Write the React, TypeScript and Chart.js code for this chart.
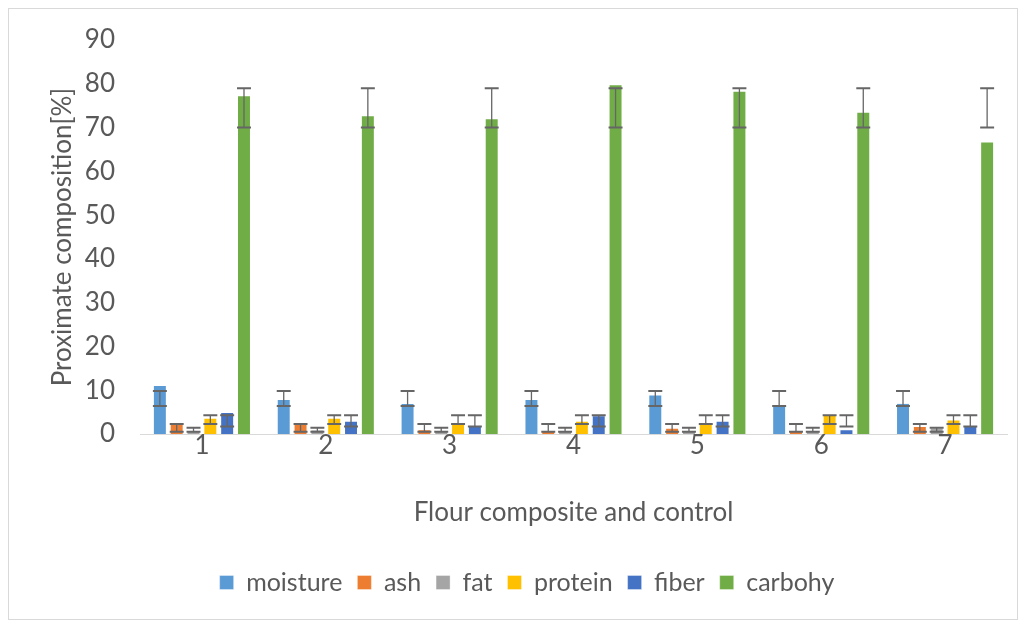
import React, { useEffect, useRef } from "react";
import { Chart, registerables } from "chart.js";

Chart.register(...registerables);

const categories = ["1", "2", "3", "4", "5", "6", "7"];
const seriesNames = ["moisture", "ash", "fat", "protein", "fiber", "carbohy"];
const seriesColors = ["#5B9BD5", "#ED7D31", "#A5A5A5", "#FFC000", "#4472C4", "#70AD47"];

const moisture = [11.2, 8.0, 7.1, 8.0, 9.0, 6.4, 7.1];
const ash = [2.3, 2.3, 1.1, 0.7, 1.4, 0.7, 1.8];
const fat = [0.8, 1.0, 0.8, 0.8, 0.8, 0.8, 1.5];
const protein = [3.7, 3.7, 2.3, 3.0, 2.3, 4.5, 3.3];
const fiber = [5.0, 3.0, 2.0, 4.3, 3.0, 1.1, 2.0];
const carbohy = [77.4, 72.8, 72.1, 79.9, 78.4, 73.6, 66.8];

// error bar ranges (low, high) per series, per category
const moistureErrLow = [6.4, 6.4, 6.4, 6.4, 6.4, 6.4, 6.4];
const moistureErrHigh = [9.8, 9.8, 9.8, 9.8, 9.8, 9.8, 9.8];
const ashErrLow = [0.5, 0.5, 0.5, 0.5, 0.5, 0.5, 0.5];
const ashErrHigh = [2.3, 2.3, 2.3, 2.3, 2.3, 2.3, 2.3];
const fatErrLow = [0.5, 0.5, 0.5, 0.5, 0.5, 0.5, 0.5];
const fatErrHigh = [1.4, 1.4, 1.4, 1.4, 1.4, 1.4, 1.4];
const proteinErrLow = [2.3, 2.3, 2.3, 2.3, 2.3, 2.3, 2.3];
const proteinErrHigh = [4.3, 4.3, 4.3, 4.3, 4.3, 4.3, 4.3];
const fiberErrLow = [1.7, 1.7, 1.7, 1.7, 1.7, 1.7, 1.7];
const fiberErrHigh = [4.3, 4.3, 4.3, 4.3, 4.3, 4.3, 4.3];
const carbohyErrLow = [70, 70, 70, 70, 70, 70, 70];
const carbohyErrHigh = [79, 79, 79, 79, 79, 79, 79];

const seriesValues = [moisture, ash, fat, protein, fiber, carbohy];
const errLows = [moistureErrLow, ashErrLow, fatErrLow, proteinErrLow, fiberErrLow, carbohyErrLow];
const errHighs = [moistureErrHigh, ashErrHigh, fatErrHigh, proteinErrHigh, fiberErrHigh, carbohyErrHigh];

const yMin = 0;
const yMax = 90;
const yStep = 10;

const FONT = "Lato, 'Noto Sans', sans-serif";
const TEXT = "#595959";

const errorBarPlugin = {
  id: "errorBars",
  afterDatasetsDraw(chart: any) {
    const ctx = chart.ctx;
    const yScale = chart.scales.y;
    ctx.save();
    chart.data.datasets.forEach((ds: any, di: number) => {
      const meta = chart.getDatasetMeta(di);
      if (meta.hidden) return;
      meta.data.forEach((bar: any, i: number) => {
        const lo = errLows[di][i];
        const hi = errHighs[di][i];
        const x = bar.x;
        const yl = yScale.getPixelForValue(lo);
        const yh = yScale.getPixelForValue(hi);
        const half = bar.width / 2;
        ctx.strokeStyle = "#666666";
        ctx.lineWidth = 1.3;
        ctx.beginPath();
        ctx.moveTo(x, yl);
        ctx.lineTo(x, yh);
        ctx.stroke();
        ctx.lineWidth = 2;
        ctx.beginPath();
        ctx.moveTo(x - half, yl);
        ctx.lineTo(x + half, yl);
        ctx.moveTo(x - half, yh);
        ctx.lineTo(x + half, yh);
        ctx.stroke();
      });
    });
    ctx.restore();
  },
};

export default function App() {
  const ref = useRef<HTMLCanvasElement | null>(null);

  useEffect(() => {
    if (!ref.current) return;
    const chart = new Chart(ref.current, {
      type: "bar",
      data: {
        labels: categories,
        datasets: seriesNames.map((name, i) => ({
          label: name,
          data: seriesValues[i],
          backgroundColor: seriesColors[i],
          borderColor: "rgba(255,255,255,0.35)",
          borderWidth: 1,
          categoryPercentage: 0.815,
          barPercentage: 0.83,
        })),
      },
      options: {
        responsive: false,
        animation: false,
        maintainAspectRatio: false,
        layout: { padding: { top: 31, right: 10, bottom: 14, left: 38 } },
        plugins: {
          tooltip: { enabled: false },
          title: { display: false },
          legend: {
            display: true,
            position: "bottom",
            labels: {
              color: TEXT,
              font: { family: FONT, size: 25 },
              boxWidth: 14,
              boxHeight: 14,
              padding: 15,
            },
          },
        },
        scales: {
          x: {
            grid: { display: false, drawTicks: false },
            border: { display: true, color: "#d9d9d9", width: 1 },
            ticks: { color: TEXT, font: { family: FONT, size: 26 }, padding: -4 },
            title: {
              display: true,
              text: "Flour composite and control",
              color: TEXT,
              font: { family: FONT, size: 26 },
              padding: { top: 0, bottom: 27 },
            },
            afterFit: (s: any) => {
              s.height = 121;
            },
          },
          y: {
            min: yMin,
            max: yMax,
            grid: { display: false, drawTicks: false },
            border: { display: false },
            ticks: {
              stepSize: yStep,
              color: TEXT,
              font: { family: FONT, size: 26 },
              padding: 25,
            },
            title: {
              display: true,
              text: "Proximate composition[%]",
              color: TEXT,
              font: { family: FONT, size: 26 },
              padding: { top: 0, bottom: 0 },
            },
            afterFit: (s: any) => {
              s.width = 93;
              s.paddingTop = 0;
              s.paddingBottom = 0;
            },
          },
        },
      },
      plugins: [errorBarPlugin],
    });
    return () => chart.destroy();
  }, []);

  return (
    <div
      style={{
        width: 1010,
        height: 612,
        border: "1px solid #d9d9d9",
        boxSizing: "border-box",
        background: "#fff",
      }}
    >
      <canvas ref={ref} width={1008} height={610} style={{ display: "block" }} />
    </div>
  );
}
